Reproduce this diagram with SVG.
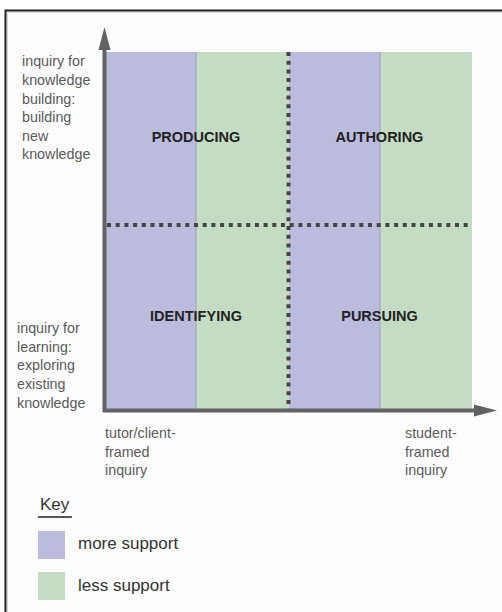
<svg xmlns="http://www.w3.org/2000/svg" width="502" height="612" viewBox="0 0 502 612">
<style>
.lbl{font-family:"Liberation Sans",Arial,sans-serif;font-size:14.3px;fill:#5a5a5a}
.q{font-family:"Liberation Sans",Arial,sans-serif;font-size:14.5px;font-weight:bold;fill:#222;text-anchor:middle}
.key{font-family:"Liberation Sans",Arial,sans-serif;font-size:17px;fill:#333}
.more{fill:#bbbbdd}
.less{fill:#c5dcc4}
.dot{stroke:#444;stroke-width:4;stroke-dasharray:4 4.7;fill:none}
.axis{stroke:#626262;stroke-width:4;fill:none}
</style>
<rect x="0" y="0" width="502" height="612" fill="#ffffff"/>
<rect x="6" y="11" width="496" height="601" fill="#fdfdfd"/>
<path d="M5.5 612 V10.5 H502" fill="none" stroke="#1e1e1e" stroke-width="2"/>
<path d="M7.5 612 V12.5 H502" fill="none" stroke="#d8d8d8" stroke-width="1"/>

<g id="quadrants">
<rect class="more" x="105" y="52" width="91" height="358"/>
<rect class="less" x="196" y="52" width="93" height="358"/>
<rect class="more" x="289" y="52" width="91" height="358"/>
<rect class="less" x="380" y="52" width="92" height="358"/>
<line x1="196" y1="52" x2="196" y2="410" stroke="#a0a0b8" stroke-width="1"/>
<line x1="380" y1="52" x2="380" y2="410" stroke="#a0a0b8" stroke-width="1"/>
</g>

<g id="dividers">
<line class="dot" x1="107" y1="225" x2="472" y2="225"/>
<line class="dot" x1="288.5" y1="52" x2="288.5" y2="410"/>
</g>

<g id="axes">
<line class="axis" x1="104.5" y1="412" x2="104.5" y2="48"/>
<polygon points="104.5,27 98.5,50 110.5,50" fill="#626262"/>
<line class="axis" x1="103" y1="410.5" x2="477" y2="410.5"/>
<polygon points="497,410.5 474,404.5 474,416.5" fill="#626262"/>
</g>

<g id="producing"><text class="q" x="196" y="142">PRODUCING</text></g>
<g id="authoring"><text class="q" x="379.5" y="142">AUTHORING</text></g>
<g id="identifying"><text class="q" x="196" y="321">IDENTIFYING</text></g>
<g id="pursuing"><text class="q" x="379.5" y="321">PURSUING</text></g>

<g id="y-high">
<text class="lbl" x="22" y="66">inquiry for</text>
<text class="lbl" x="22" y="85">knowledge</text>
<text class="lbl" x="22" y="104">building:</text>
<text class="lbl" x="22" y="122">building</text>
<text class="lbl" x="22" y="141">new</text>
<text class="lbl" x="22" y="159">knowledge</text>
</g>
<g id="y-low">
<text class="lbl" x="17" y="333">inquiry for</text>
<text class="lbl" x="17" y="352">learning:</text>
<text class="lbl" x="17" y="370">exploring</text>
<text class="lbl" x="17" y="389">existing</text>
<text class="lbl" x="17" y="408">knowledge</text>
</g>
<g id="x-left">
<text class="lbl" x="105" y="438">tutor/client-</text>
<text class="lbl" x="105" y="457">framed</text>
<text class="lbl" x="105" y="475">inquiry</text>
</g>
<g id="x-right">
<text class="lbl" x="405" y="438">student-</text>
<text class="lbl" x="405" y="457">framed</text>
<text class="lbl" x="405" y="475">inquiry</text>
</g>

<g id="legend">
<text class="key" x="40" y="510">Key</text>
<line x1="38" y1="517" x2="72" y2="517" stroke="#222" stroke-width="1.5"/>
<rect class="more" x="38" y="531" width="27" height="28"/>
<text class="key" x="78" y="549">more support</text>
<rect class="less" x="38" y="572" width="27" height="28"/>
<text class="key" x="78" y="591">less support</text>
</g>
</svg>
